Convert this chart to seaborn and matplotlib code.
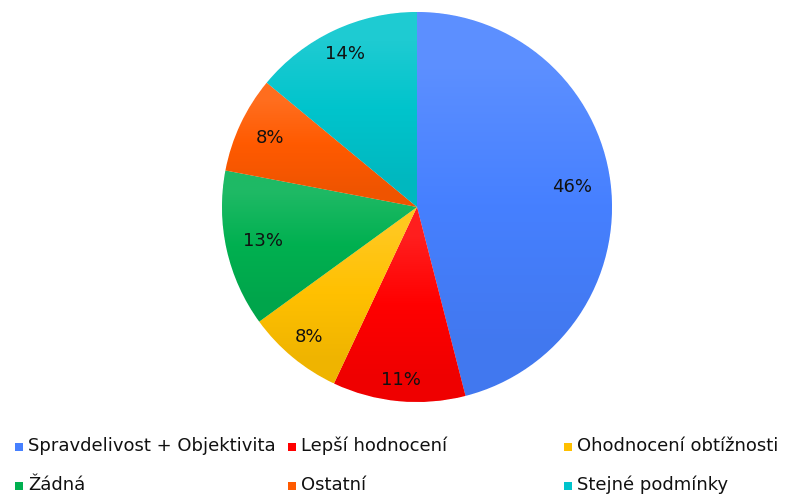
import numpy as np
import matplotlib
matplotlib.use("Agg")
import matplotlib.pyplot as plt
import matplotlib.colors as mcolors
from matplotlib.patches import Rectangle
import seaborn as sns

categories = ["Spravdelivost + Objektivita", "Lepší hodnocení", "Ohodnocení obtížnosti",
              "Žádná", "Ostatní", "Stejné podmínky"]
values = [46, 11, 8, 13, 8, 14]
colors = ["#4680FF", "#FF0000", "#FFC000", "#00B050", "#FF5A00", "#00C4CC"]
label_dist = [0.80, 0.89, 0.865, 0.81, 0.835, 0.865]

sns.set_theme(style="white")
plt.rcParams["font.family"] = ["DejaVu Sans"]

W, H = 792, 495
fig = plt.figure(figsize=(W / 100, H / 100), dpi=100)
cx, cy, r = 417, 207, 195
ax = fig.add_axes([(cx - r) / W, (H - cy - r) / H, 2 * r / W, 2 * r / H])

palette = sns.color_palette(colors)
wedges, texts, autotexts = ax.pie(
    values, colors=palette, startangle=90, counterclock=False, radius=1,
    autopct="%1.0f%%", pctdistance=0.85,
    wedgeprops=dict(linewidth=0.6, edgecolor="white"),
    textprops=dict(fontsize=13, color="#111111"))
ax.set_xlim(-1, 1)
ax.set_ylim(-1, 1)
ax.set_aspect("equal")
ax.axis("off")

# reposition percentage labels radially
for w, t_, d in zip(wedges, autotexts, label_dist):
    ang = np.deg2rad((w.theta1 + w.theta2) / 2)
    t_.set_position((d * np.cos(ang), d * np.sin(ang)))
    t_.set_zorder(10)

# subtle vertical gradient inside each wedge
for w, c in zip(wedges, colors):
    base = np.array(mcolors.to_rgb(c))
    top = base + (1 - base) * 0.12
    bot = base * 0.94
    path = w.get_path()
    verts = w.get_patch_transform().transform(path.vertices)
    y0, y1 = verts[:, 1].min(), verts[:, 1].max()
    x0, x1 = verts[:, 0].min(), verts[:, 0].max()
    t = np.linspace(0, 1, 256)[:, None]
    tt = np.clip(t * 1.4 - 0.2, 0, 1)
    mid = base
    grad = np.where(tt < 0.5,
                    bot[None, :] * (1 - 2 * tt) + mid[None, :] * (2 * tt),
                    mid[None, :] * (2 - 2 * tt) + top[None, :] * (2 * tt - 1))
    grad = np.repeat(grad[:, None, :], 2, axis=1)
    im = ax.imshow(grad, extent=[x0, x1, y0, y1], origin="lower",
                   aspect="auto", zorder=w.get_zorder() + 0.1, interpolation="bilinear")
    im.set_clip_path(w)

# legend: 3 columns
col_x = [28, 301, 577]
row_y = [446, 485]
for i, (lab, c) in enumerate(zip(categories, colors)):
    x = col_x[i % 3]
    y = row_y[i // 3]
    fig.patches.append(Rectangle(((x - 13) / W, (H - y - 5) / H), 8 / W, 8 / H,
                                 transform=fig.transFigure, facecolor=c,
                                 edgecolor="none", figure=fig))
    fig.text(x / W, (H - y) / H, lab, fontsize=13, color="#111111",
             va="center", ha="left")

fig.savefig("out.png", dpi=100, facecolor="white")
